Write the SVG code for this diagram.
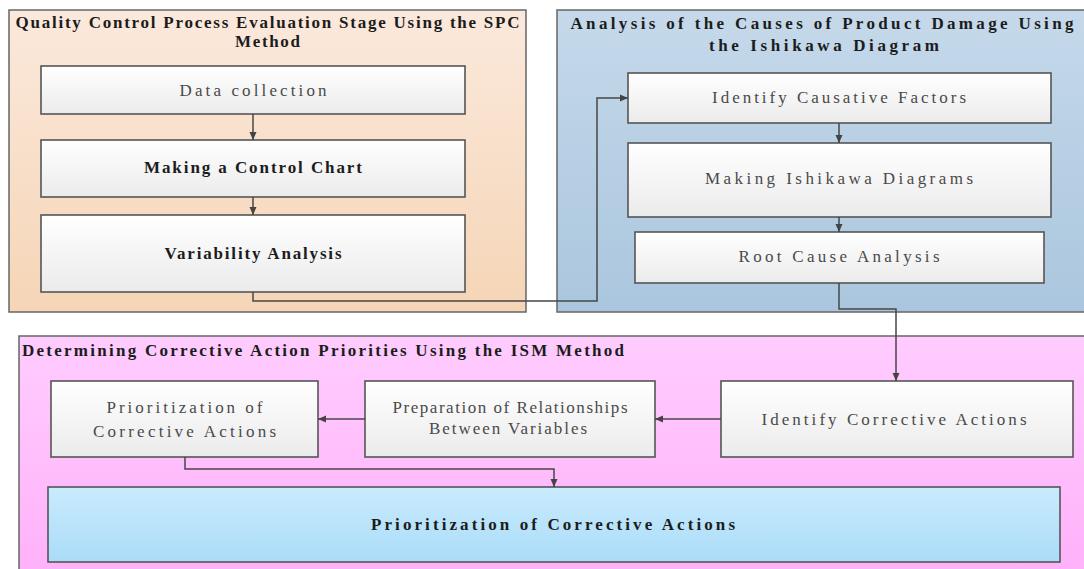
<svg xmlns="http://www.w3.org/2000/svg" width="1084" height="569" viewBox="0 0 1084 569">
<defs>
<linearGradient id="gPeach" x1="0" y1="0" x2="0" y2="1"><stop offset="0" stop-color="#FBE9DC"/><stop offset="1" stop-color="#F5D5B6"/></linearGradient>
<linearGradient id="gBlue" x1="0" y1="0" x2="0" y2="1"><stop offset="0" stop-color="#C5D9EA"/><stop offset="1" stop-color="#AAC6DE"/></linearGradient>
<linearGradient id="gPink" x1="0" y1="0" x2="0" y2="1"><stop offset="0" stop-color="#FFCCFF"/><stop offset="1" stop-color="#FFB0F9"/></linearGradient>
<linearGradient id="gBox" x1="0" y1="0" x2="0" y2="1"><stop offset="0" stop-color="#FFFFFF"/><stop offset="1" stop-color="#EBEBEB"/></linearGradient>
<linearGradient id="gBig" x1="0" y1="0" x2="0" y2="1"><stop offset="0" stop-color="#C9EBFD"/><stop offset="1" stop-color="#AADCF8"/></linearGradient>
<marker id="arr" markerUnits="userSpaceOnUse" markerWidth="9" markerHeight="9" refX="8" refY="4" orient="auto"><path d="M0,0.5 L8,4 L0,7.5 z" fill="#444"/></marker>
<style>
.cont{stroke:#666;stroke-width:1.5}
.box{fill:url(#gBox);stroke:#555;stroke-width:1.6}
.big{fill:url(#gBig);stroke:#555;stroke-width:1.6}
.t{font-family:"Liberation Serif","Times New Roman",serif;font-size:17px;fill:#4a4a4a;text-anchor:middle}
.b{font-family:"Liberation Serif","Times New Roman",serif;font-size:17px;font-weight:bold;fill:#1c1c1c;text-anchor:middle}
.ti{font-family:"Liberation Serif","Times New Roman",serif;font-size:17px;font-weight:bold;fill:#1c1c1c}
.c{fill:none;stroke:#474747;stroke-width:1.5;marker-end:url(#arr)}
</style>
</defs>
<rect width="1084" height="569" fill="#FFFFFF"/>

<g id="container-spc">
<rect class="cont" x="9" y="10" width="517" height="302" fill="url(#gPeach)"/>
<text class="ti" x="267.5" y="28" text-anchor="middle" textLength="504" lengthAdjust="spacing">Quality Control Process Evaluation Stage Using the SPC</text>
<text class="ti" x="267.5" y="47" text-anchor="middle" textLength="65" lengthAdjust="spacing">Method</text>
</g>
<g id="container-ishikawa">
<rect class="cont" x="557" y="10" width="540" height="302" fill="url(#gBlue)"/>
<text class="ti" x="822" y="29" text-anchor="middle" textLength="503" lengthAdjust="spacing">Analysis of the Causes of Product Damage Using</text>
<text class="ti" x="824" y="51" text-anchor="middle" textLength="230" lengthAdjust="spacing">the Ishikawa Diagram</text>
</g>
<g id="container-ism">
<rect class="cont" x="19" y="336" width="1080" height="250" fill="url(#gPink)"/>
<text class="ti" x="22" y="356" textLength="602" lengthAdjust="spacing">Determining Corrective Action Priorities Using the ISM Method</text>
</g>

<g id="data-collection">
<rect class="box" x="41" y="66" width="424" height="48"/>
<text class="t" x="253" y="96" textLength="147" lengthAdjust="spacing">Data collection</text>
</g>
<g id="control-chart">
<rect class="box" x="41" y="140" width="424" height="57"/>
<text class="b" x="253" y="173" textLength="218" lengthAdjust="spacing">Making a Control Chart</text>
</g>
<g id="variability">
<rect class="box" x="41" y="215" width="424" height="77"/>
<text class="b" x="253" y="259" textLength="177" lengthAdjust="spacing">Variability Analysis</text>
</g>

<g id="causative-factors">
<rect class="box" x="628" y="73" width="423" height="50"/>
<text class="t" x="839" y="103" textLength="254" lengthAdjust="spacing">Identify Causative Factors</text>
</g>
<g id="ishikawa-diagrams">
<rect class="box" x="628" y="143" width="423" height="74"/>
<text class="t" x="839" y="184" textLength="268" lengthAdjust="spacing">Making Ishikawa Diagrams</text>
</g>
<g id="root-cause">
<rect class="box" x="635" y="232" width="409" height="51"/>
<text class="t" x="839" y="262" textLength="201" lengthAdjust="spacing">Root Cause Analysis</text>
</g>

<g id="prioritization-small">
<rect class="box" x="51" y="381" width="267" height="76"/>
<text class="t" x="184.5" y="413" textLength="156" lengthAdjust="spacing">Prioritization of</text>
<text class="t" x="184.5" y="437" textLength="183" lengthAdjust="spacing">Corrective Actions</text>
</g>
<g id="preparation">
<rect class="box" x="365" y="381" width="290" height="76"/>
<text class="t" x="510" y="413" textLength="235" lengthAdjust="spacing">Preparation of Relationships</text>
<text class="t" x="508" y="434" textLength="158" lengthAdjust="spacing">Between Variables</text>
</g>
<g id="identify-corrective">
<rect class="box" x="721" y="381" width="352" height="76"/>
<text class="t" x="894" y="425" textLength="265" lengthAdjust="spacing">Identify Corrective Actions</text>
</g>
<g id="prioritization-final">
<rect class="big" x="48" y="487" width="1012" height="75"/>
<text class="b" x="553" y="530" font-size="18" textLength="364" lengthAdjust="spacing">Prioritization of Corrective Actions</text>
</g>

<g id="connectors">
<path class="c" d="M253,114 V140"/>
<path class="c" d="M253,197 V215"/>
<path class="c" d="M253,292 V301 H597 V98 H628"/>
<path class="c" d="M839,123 V143"/>
<path class="c" d="M839,217 V232"/>
<path class="c" d="M839,283 V309 H896 V381"/>
<path class="c" d="M721,419 H655"/>
<path class="c" d="M365,419 H318"/>
<path class="c" d="M185,457 V469 H554 V487"/>
</g>
</svg>
